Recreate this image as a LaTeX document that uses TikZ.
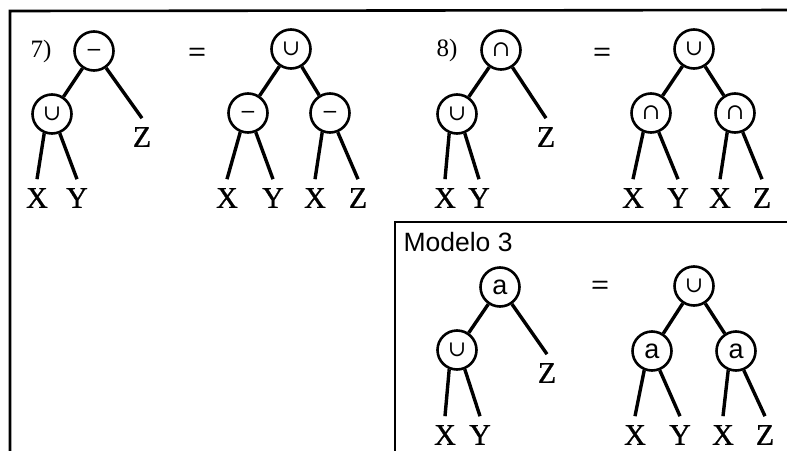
\documentclass[tikz,border=0pt]{standalone}
\usepackage{fontspec}
\setmainfont{Liberation Serif}
\setsansfont{Liberation Sans}
\newfontfamily\opfont{DejaVu Serif}
% operator glyphs inside the circles
\newcommand\opun{{\opfont\fontsize{22}{22}\selectfont ∪}}
\newcommand\opin{{\opfont\fontsize{22}{22}\selectfont ∩}}
\newcommand\opmn{{\opfont\fontsize{20}{20}\selectfont\raisebox{-0.29em}[0pt][0pt]{−}}}
\newcommand\opa{{\sffamily\fontsize{27}{27}\selectfont a}}
\begin{document}
\begin{tikzpicture}[x=1pt,y=-1pt,
  op/.style={circle,draw,line width=2.6pt,minimum size=39pt,inner sep=0pt},
  leaf/.style={font=\fontsize{30}{30}\selectfont\addfontfeature{FakeBold=0.8},inner sep=0pt,outer sep=9pt},
  edge/.style={line width=3.4pt},
  eq/.style={font=\fontsize{31}{31}\selectfont\addfontfeature{FakeBold=0.8}},
  num/.style={font=\fontsize{25}{25}\selectfont},
  frameline/.style={line width=2.6pt}]
\useasboundingbox (0,0) rectangle (787,450);
\clip (0,0) rectangle (787,450);

% frames
\draw[frameline] (10,470) -- (10,11) -- (800,10);
\draw[frameline] (395,470) -- (395,222) -- (800,222);

% ---- rule 7, left side
\node[num] (n7) at (41,51) {7)};
\node[op] (a1) at (94,51) {\opmn};
\node[op] (a2) at (52,114) {\opun};
\node[leaf] (a3) at (142,137) {Z};
\node[leaf] (a4) at (37,198) {X};
\node[leaf] (a5) at (77,198) {Y};
\draw[edge] (a1) -- (a2);
\draw[edge] (a1) -- (a3.north);
\draw[edge] (a2.-112) -- (a4.north);
\draw[edge] (a2.-68) -- (a5.north);

\node[eq] (e1) at (197,55) {=};

% ---- rule 7, right side
\node[op] (b1) at (291,49) {\opun};
\node[op] (b2) at (248,113) {\opmn};
\node[op] (b3) at (330,113) {\opmn};
\node[leaf] (b4) at (227,198) {X};
\node[leaf] (b5) at (273,198) {Y};
\node[leaf] (b6) at (315,198) {X};
\node[leaf] (b7) at (358,198) {Z};
\draw[edge] (b1) -- (b2);
\draw[edge] (b1) -- (b3);
\draw[edge] (b2.-112) -- (b4.north);
\draw[edge] (b2.-68) -- (b5.north);
\draw[edge] (b3.-112) -- (b6.north);
\draw[edge] (b3.-68) -- (b7.north);

% ---- rule 8, left side
\node[num] (n8) at (447,50) {8)};
\node[op] (c1) at (501,50) {\opin};
\node[op] (c2) at (457,114) {\opun};
\node[leaf] (c3) at (546,137) {Z};
\node[leaf] (c4) at (445,198) {X};
\node[leaf] (c5) at (479,198) {Y};
\draw[edge] (c1) -- (c2);
\draw[edge] (c1) -- (c3.north);
\draw[edge] (c2.-112) -- (c4.north);
\draw[edge] (c2.-68) -- (c5.north);

\node[eq] (e2) at (602,55) {=};

% ---- rule 8, right side
\node[op] (d1) at (694,49) {\opun};
\node[op] (d2) at (651,113) {\opin};
\node[op] (d3) at (735,113) {\opin};
\node[leaf] (d4) at (633,198) {X};
\node[leaf] (d5) at (678,198) {Y};
\node[leaf] (d6) at (720,198) {X};
\node[leaf] (d7) at (762,198) {Z};
\draw[edge] (d1) -- (d2);
\draw[edge] (d1) -- (d3);
\draw[edge] (d2.-112) -- (d4.north);
\draw[edge] (d2.-68) -- (d5.north);
\draw[edge] (d3.-112) -- (d6.north);
\draw[edge] (d3.-68) -- (d7.north);

% ---- Modelo 3
\node[anchor=west,font=\sffamily\fontsize{26.5}{26.5}\selectfont] (m) at (400,242) {Modelo 3};
\node[op] (f1) at (500,287) {\opa};
\node[op] (f2) at (457,350) {\opun};
\node[leaf] (f3) at (547,373) {Z};
\node[leaf] (f4) at (445,435) {X};
\node[leaf] (f5) at (480,435) {Y};
\draw[edge] (f1) -- (f2);
\draw[edge] (f1) -- (f3.north);
\draw[edge] (f2.-112) -- (f4.north);
\draw[edge] (f2.-68) -- (f5.north);

\node[eq] (e3) at (600,288) {=};

\node[op] (g1) at (694,286) {\opun};
\node[op] (g2) at (652,351) {\opa};
\node[op] (g3) at (736,351) {\opa};
\node[leaf] (g4) at (635,435) {X};
\node[leaf] (g5) at (680,435) {Y};
\node[leaf] (g6) at (723,435) {X};
\node[leaf] (g7) at (765,435) {Z};
\draw[edge] (g1) -- (g2);
\draw[edge] (g1) -- (g3);
\draw[edge] (g2.-112) -- (g4.north);
\draw[edge] (g2.-68) -- (g5.north);
\draw[edge] (g3.-112) -- (g6.north);
\draw[edge] (g3.-68) -- (g7.north);
\end{tikzpicture}
\end{document}
